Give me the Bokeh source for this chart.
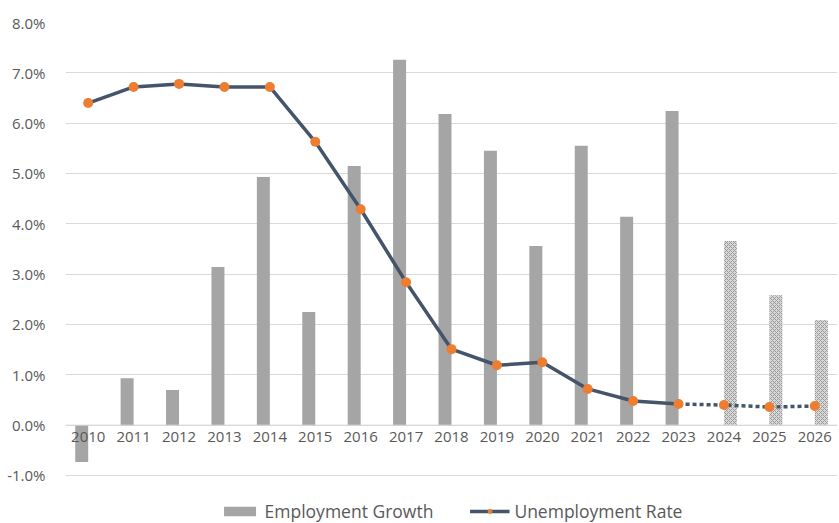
from bokeh.plotting import figure
from bokeh.models import (ColumnDataSource, FactorRange, Range1d, FixedTicker,
                          PrintfTickFormatter, Legend, LegendItem, Span)
from bokeh.core.properties import value
from bokeh.transform import dodge
from bokeh.embed import file_html
from bokeh.resources import INLINE

years = [str(y) for y in range(2010, 2027)]
actual_years = years[:14]
forecast_years = years[14:]
emp_growth_actual = [-0.73, 0.93, 0.70, 3.14, 4.93, 2.25, 5.15, 7.26, 6.18, 5.45, 3.56, 5.55, 4.14, 6.24]
emp_growth_forecast = [3.66, 2.58, 2.09]
unemp_actual = [6.40, 6.72, 6.78, 6.72, 6.72, 5.63, 4.29, 2.84, 1.51, 1.19, 1.25, 0.72, 0.48, 0.42]
unemp_forecast = [0.42, 0.40, 0.36, 0.38]
unemp_forecast_years = ["2023"] + forecast_years
y_ticks = [-1, 0, 1, 2, 3, 4, 5, 6, 7, 8]

FONT = "Open Sans"
TXT = "#595959"

# frame runs from 22px to 523px; -1%..8% spans 453px, rest holds the legend
p = figure(width=839, height=523, x_range=FactorRange(*years), y_range=Range1d(-1.954, 8),
           output_backend="svg", toolbar_location=None,
           min_border_left=65, min_border_right=2, min_border_top=22, min_border_bottom=0)
p.outline_line_color = None
p.background_fill_color = "white"

src_a = ColumnDataSource(dict(year=actual_years, v=emp_growth_actual))
src_f = ColumnDataSource(dict(year=forecast_years, v=emp_growth_forecast))
bars = p.vbar(x=dodge('year', -0.143, range=p.x_range), top='v', bottom=0, width=0.286,
              source=src_a, fill_color="#a5a5a5", line_color=None)
p.vbar(x=dodge('year', 0.143, range=p.x_range), top='v', bottom=0, width=0.286,
       source=src_f, fill_color="#d9d9d9", line_color=None,
       hatch_pattern="diagonal_cross", hatch_color="#999999", hatch_scale=4, hatch_weight=1)

p.add_layout(Span(location=0, dimension="width", line_color="#d9d9d9", line_width=1))

src_u = ColumnDataSource(dict(year=actual_years, v=unemp_actual))
src_uf = ColumnDataSource(dict(year=unemp_forecast_years, v=unemp_forecast))
line = p.line(x='year', y='v', source=src_u, line_color="#44546A", line_width=3.5)
p.line(x='year', y='v', source=src_uf, line_color="#44546A", line_width=3.5,
       line_dash="4 3", line_cap="butt")
pts = p.scatter(x='year', y='v', source=src_u, size=10, fill_color="#ED7D31", line_color=None)
p.scatter(x='year', y='v', source=ColumnDataSource(dict(year=forecast_years, v=unemp_forecast[1:])),
          size=10, fill_color="#ED7D31", line_color=None)

# category labels sitting just under the 0% line
p.text(x='year', y=0, text='year', source=ColumnDataSource(dict(year=years)),
       text_font=value(FONT), text_font_size="15px", text_color=TXT,
       text_align="center", text_baseline="top", y_offset=7)

p.yaxis.ticker = FixedTicker(ticks=y_ticks)
p.yaxis.formatter = PrintfTickFormatter(format="%.1f%%")
p.yaxis.axis_line_color = None
p.yaxis.major_tick_line_color = None
p.yaxis.minor_tick_line_color = None
p.yaxis.major_label_text_font = FONT
p.yaxis.major_label_text_font_size = "15px"
p.yaxis.major_label_text_color = TXT
p.yaxis.major_label_standoff = 14

p.ygrid.ticker = FixedTicker(ticks=y_ticks)
p.ygrid.grid_line_color = "#d9d9d9"
p.xgrid.grid_line_color = None
p.xaxis.visible = False

legend = Legend(items=[LegendItem(label="Employment Growth", renderers=[bars]),
                       LegendItem(label="Unemployment Rate", renderers=[line, pts])],
                orientation="horizontal", location="bottom_center",
                label_text_font=FONT, label_text_font_size="17.5px", label_text_color=TXT,
                glyph_width=40, glyph_height=12, label_height=20, spacing=36, label_standoff=5,
                border_line_color=None, background_fill_alpha=0, margin=0, padding=0)
p.add_layout(legend)

open("out.html", "w").write(file_html(p, INLINE))
